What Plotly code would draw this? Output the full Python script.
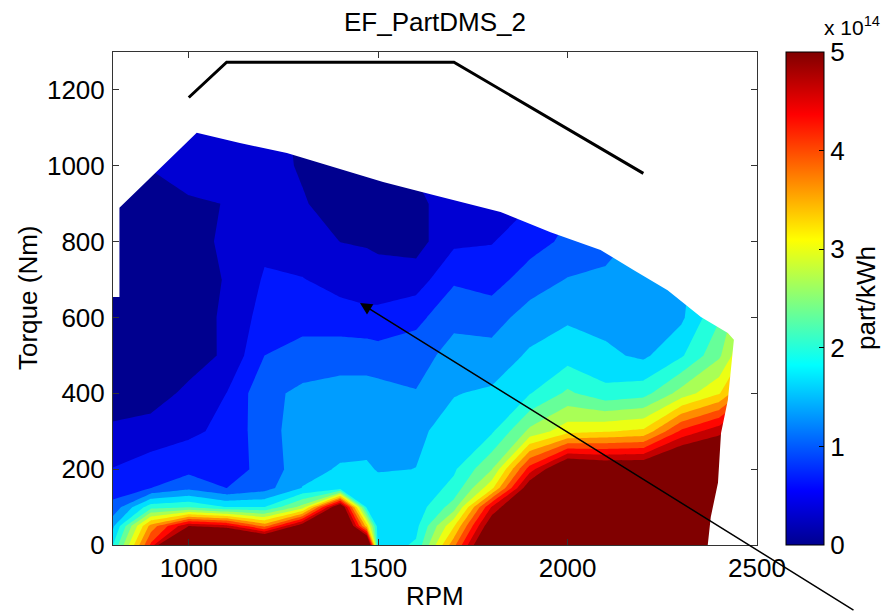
import plotly.graph_objects as go

# ---- data (values in units of 1e14 part/kWh) ----
rpm_nodes = [800, 900, 1000, 1100, 1200, 1300, 1400, 1470, 1500, 1600, 1700,
             1800, 1900, 2000, 2100, 2200, 2300, 2400, 2500]
torque_nodes = [0, 50, 100, 150, 200, 300, 400, 500, 600, 700, 800, 900,
                1000, 1100, 1200, 1300]

pn_t0 = [2.0, 4.4, 7.5, 7.0, 6.5, 6.5, 7.5, 6.5, 1.8, 2.05, 3.9, 6.0, 6.5, 7.0, 7.0, 7.0, 6.5, 6.5, 7.0]
pn_t50 = [1.6, 3.8, 5.0, 4.8, 3.9, 5.3, 6.5, 3.5, 1.8, 1.9, 3.3, 5.4, 6.3, 6.8, 6.8, 6.8, 6.5, 6.5, 7.0]
pn_t100 = [1.1, 2.2, 2.3, 2.0, 2.0, 2.8, 5.6, 1.9, 1.85, 1.8, 2.5, 4.7, 5.9, 6.5, 6.5, 6.6, 6.4, 6.5, 7.0]
pn_t150 = [0.85, 1.0, 1.25, 1.0, 1.2, 1.68, 1.8, 1.85, 1.8, 1.75, 2.1, 3.25, 5.35, 6.2, 6.1, 6.2, 6.2, 6.3, 7.0]
pn_t200 = [0.68, 0.85, 0.9, 0.85, 1.1, 1.55, 1.7, 1.72, 1.64, 1.67, 1.95, 2.65, 4.5, 5.7, 5.5, 5.5, 6.0, 5.8, 6.5]
pn_t300 = [0.38, 0.45, 0.6, 0.75, 1.2, 1.5, 1.5, 1.5, 1.5, 1.6, 1.8, 1.95, 2.75, 3.2, 3.3, 3.4, 4.4, 4.9, 5.5]
pn_t400 = [0.2, 0.2, 0.4, 0.67, 1.25, 1.4, 1.45, 1.45, 1.45, 1.35, 1.65, 1.72, 1.98, 2.4, 2.1, 2.2, 2.8, 3.3, 4.5]
pn_t500 = [0.15, 0.15, 0.2, 0.38, 1.0, 1.15, 1.2, 1.2, 1.15, 1.2, 1.45, 1.45, 1.72, 1.85, 1.74, 1.6, 1.95, 2.6, 3.8]
pn_t600 = [0.15, 0.15, 0.15, 0.4, 0.8, 0.85, 0.8, 0.75, 0.75, 0.9, 1.25, 1.2, 1.47, 1.62, 1.55, 1.5, 1.6, 2.3, 3.5]
pn_t700 = [0.15, 0.15, 0.15, 0.36, 0.7, 0.68, 0.55, 0.5, 0.5, 0.5, 0.95, 0.85, 1.17, 1.35, 1.38, 1.45, 1.5, 2.3, 3.5]
pn_t800 = [0.18, 0.15, 0.2, 0.4, 0.6, 0.5, 0.33, 0.3, 0.25, 0.2, 0.6, 0.65, 0.85, 1.08, 1.25, 1.4, 1.5, 2.3, 3.5]
pn_t900 = [0.2, 0.2, 0.3, 0.34, 0.5, 0.36, 0.2, 0.15, 0.15, 0.3, 0.4, 0.6, 0.65, 0.95, 1.1, 1.4, 1.5, 2.3, 3.5]
pn_t1000 = [0.3, 0.35, 0.45, 0.5, 0.45, 0.3, 0.15, 0.2, 0.2, 0.35, 0.45, 0.6, 0.6, 0.9, 1.1, 1.4, 1.5, 2.3, 3.5]
pn_t1100 = [0.4, 0.45, 0.5, 0.5, 0.4, 0.3, 0.2, 0.25, 0.25, 0.4, 0.5, 0.6, 0.6, 0.9, 1.1, 1.4, 1.5, 2.3, 3.5]
pn_t1200 = [0.4, 0.45, 0.5, 0.5, 0.4, 0.3, 0.2, 0.3, 0.3, 0.4, 0.5, 0.6, 0.6, 0.9, 1.1, 1.4, 1.5, 2.3, 3.5]
pn_t1300 = [0.4, 0.45, 0.5, 0.5, 0.4, 0.3, 0.2, 0.3, 0.3, 0.4, 0.5, 0.6, 0.6, 0.9, 1.1, 1.4, 1.5, 2.3, 3.5]

# operating envelope (max torque curve + right edge of measured area)
env_rpm = [800, 817, 817, 1021, 1135, 1259, 1381, 1513, 1646, 1823, 1955, 2087,
           2174, 2264, 2352, 2423, 2439, 2431, 2423, 2405, 2397, 2378, 2370]
env_torque = [654, 654, 889, 1087, 1060, 1034, 997, 957, 923, 878, 825, 778,
              725, 672, 601, 559, 541, 469, 382, 295, 164, 74, 0]

# black full-load reference line
line_rpm = [1000, 1100, 1700, 2200]
line_torque = [1180, 1273, 1273, 980]

# arrow head position
arrow_rpm, arrow_torque = 1452, 638

cbar_ticks = [0, 1, 2, 3, 4, 5]

z = [pn_t0, pn_t50, pn_t100, pn_t150, pn_t200, pn_t300, pn_t400, pn_t500,
     pn_t600, pn_t700, pn_t800, pn_t900, pn_t1000, pn_t1100, pn_t1200, pn_t1300]

jet = [[0.0, 'rgb(0,0,143)'], [0.11, 'rgb(0,0,255)'], [0.365, 'rgb(0,255,255)'],
       [0.619, 'rgb(255,255,0)'], [0.873, 'rgb(255,0,0)'], [1.0, 'rgb(128,0,0)']]

FONT = 'Liberation Sans, Arial, sans-serif'
FS = 26

L, R, T, B = 113, 138, 52, 66
PW, PH = 895 - L - R, 611 - T - B


def px_x(px):
    return (px - L) / PW


def px_y(py):
    return (611 - B - py) / PH


fig = go.Figure()

fig.add_trace(go.Contour(
    x=rpm_nodes, y=torque_nodes, z=z,
    colorscale=jet, autocontour=False,
    contours=dict(start=1/3, end=5, size=1/3, coloring='fill', showlines=False),
    line=dict(width=0, smoothing=0),
    showscale=False, hoverinfo='skip'))

# white mask outside the operating envelope
mask_x = [780] + env_rpm + [2520, 2520, 780]
mask_y = [1320] + env_torque + [-20, 1320, 1320]
fig.add_trace(go.Scatter(x=mask_x, y=mask_y, mode='lines', fill='toself',
                         fillcolor='white', line=dict(width=0, color='white'),
                         hoverinfo='skip', showlegend=False))

fig.add_trace(go.Scatter(x=line_rpm, y=line_torque, mode='lines',
                         line=dict(color='black', width=3), showlegend=False))

# colorbar holder
fig.add_trace(go.Scatter(
    x=[1000, 1000], y=[-500, -500], mode='markers',
    marker=dict(size=1, color=[0, 5], cmin=0, cmax=5, colorscale=jet,
                showscale=True,
                colorbar=dict(x=px_x(786), xanchor='left', xpad=0,
                              y=0.5, yanchor='middle', len=1, lenmode='fraction',
                              ypad=0, thickness=38, thicknessmode='pixels',
                              outlinewidth=1, outlinecolor='black',
                              tickvals=cbar_ticks, ticks='inside', ticklen=5,
                              tickcolor='black',
                              tickfont=dict(family=FONT, size=FS, color='black'))),
    showlegend=False, hoverinfo='skip'))

axis_common = dict(showline=True, linecolor='#333', linewidth=1, mirror='ticks',
                   ticks='inside', ticklen=6, tickcolor='#333', showgrid=False,
                   zeroline=False, tickfont=dict(family=FONT, size=FS, color='black'))

fig.update_layout(
    width=895, height=611,
    margin=dict(l=L, r=R, t=T, b=B, autoexpand=False),
    paper_bgcolor='white', plot_bgcolor='white',
    showlegend=False,
    title=dict(text='EF_PartDMS_2', x=0.5, xref='paper', y=1 - 22 / 611,
               yanchor='middle', font=dict(family=FONT, size=FS, color='black')),
    xaxis=dict(range=[800, 2500], tickvals=[1000, 1500, 2000, 2500],
               ticklabelstandoff=0, **axis_common),
    yaxis=dict(range=[0, 1300], tickvals=[0, 200, 400, 600, 800, 1000, 1200],
               ticklabelstandoff=2, **axis_common),
    annotations=[
        dict(text='Torque (Nm)', xref='paper', yref='paper', x=px_x(28),
             y=px_y(298), textangle=-90, showarrow=False, xanchor='center',
             yanchor='middle', font=dict(family=FONT, size=FS, color='black')),
        dict(text='RPM', xref='paper', yref='paper', x=px_x(435), y=px_y(596),
             showarrow=False, xanchor='center', yanchor='middle',
             font=dict(family=FONT, size=FS, color='black')),
        dict(text='part/kWh', xref='paper', yref='paper', x=px_x(866),
             y=px_y(298), textangle=-90, showarrow=False, xanchor='center',
             yanchor='middle', font=dict(family=FONT, size=FS, color='black')),
        dict(text='x 10<sup>14</sup>', xref='paper', yref='paper',
             x=px_x(822), y=px_y(26), showarrow=False,
             xanchor='left', yanchor='middle',
             font=dict(family=FONT, size=21, color='black')),
        dict(text='', x=arrow_rpm, y=arrow_torque, xref='x', yref='y',
             ax=495, ay=308, showarrow=True, arrowhead=2, arrowsize=1.6,
             arrowwidth=1.5, arrowcolor='black'),
    ])

fig.write_html('out.html', config={'displayModeBar': False},
               post_script="document.body.style.margin='0px';"
                           "document.body.style.overflow='hidden';")
